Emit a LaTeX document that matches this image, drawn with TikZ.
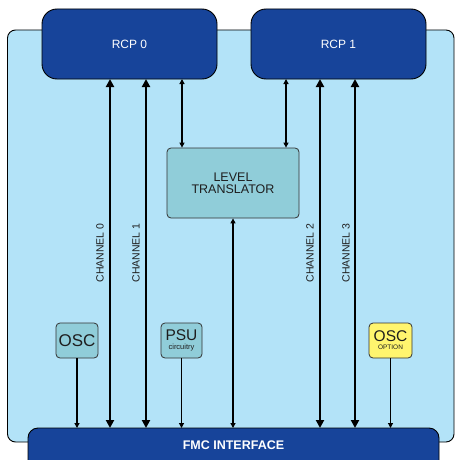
\documentclass[tikz,border=0pt]{standalone}
\usepackage{fontspec}
\setmainfont{Liberation Sans}
\usetikzlibrary{arrows.meta}
\definecolor{bgblue}{HTML}{B3E3F8}
\definecolor{darkblue}{HTML}{17449A}
\definecolor{teal}{HTML}{90CDD9}
\definecolor{yel}{HTML}{FFF56E}
\definecolor{txt}{HTML}{1E1E1E}
\tikzset{
  rcp/.style={draw=black, line width=0.9pt, fill=darkblue, rounded corners=15pt, text=white, font=\fontsize{12}{14}\selectfont},
  lbox/.style={draw=black!80, line width=0.8pt, fill=teal, rounded corners=4pt, text=txt},
  thick arr/.style={line width=2.6pt, {Triangle[length=8pt,width=8pt]}-{Triangle[length=8pt,width=8pt]}},
  thin arr/.style={line width=1.2pt, {Triangle[length=5pt,width=5pt]}-{Triangle[length=5pt,width=5pt]}},
  down arr/.style={line width=1.2pt, -{Triangle[length=5pt,width=5pt]}},
  chlab/.style={rotate=90, text=txt, font=\fontsize{10.5}{12}\selectfont},
}
\begin{document}
\begin{tikzpicture}[x=1pt,y=-1pt]
\useasboundingbox (0,0) rectangle (455,460);
\clip (0,0) rectangle (455,460);
\fill[white] (0,0) rectangle (455,460);
% background board
\draw[fill=bgblue, line width=0.9pt, rounded corners=8pt] (7.5,30) rectangle (454,442);
% RCPs
\draw[rcp] (42,9) rectangle (217,79);
\node[text=white, font=\fontsize{12}{14}\selectfont] (rcp0) at (129.5,44) {RCP 0};
\coordinate (rcp0b) at (129.5,79);
\draw[rcp] (251,9) rectangle (426,79);
\node[text=white, font=\fontsize{12}{14}\selectfont] (rcp1) at (338.5,44) {RCP 1};
% FMC
\draw[rcp, rounded corners=10pt] (28,428) rectangle (439,480);
\node[text=white, font=\bfseries\fontsize{12.5}{14}\selectfont] (fmc) at (233.5,445) {FMC INTERFACE};
% Level translator
\node[lbox, minimum width=132pt, minimum height=70pt, align=center, font=\fontsize{12.5}{14}\selectfont, inner sep=0pt] (lt) at (233,183) {LEVEL\\[-2pt]TRANSLATOR};
% small boxes
\node[lbox, minimum width=42pt, minimum height=35pt, inner sep=0pt, font=\fontsize{17}{18}\selectfont] (osc) at (77,340.5) {OSC};
\node[lbox, minimum width=41pt, minimum height=35pt, inner sep=0pt, align=center] (psu) at (181.5,340.5) {{\fontsize{15.5}{15}\selectfont PSU}\\[-3pt]{\fontsize{7.5}{8}\selectfont circuitry}};
\node[lbox, fill=yel, minimum width=43pt, minimum height=35pt, inner sep=0pt, align=center] (osco) at (390.5,340.5) {{\fontsize{15.5}{15}\selectfont OSC}\\[-4pt]{\fontsize{6.5}{7}\selectfont OPTION}};
% channel arrows
\coordinate (c0t) at (110,79); \coordinate (c0b) at (110,428);
\coordinate (c1t) at (146,79); \coordinate (c1b) at (146,428);
\coordinate (c2t) at (320,79); \coordinate (c2b) at (320,428);
\coordinate (c3t) at (355,79); \coordinate (c3b) at (355,428);
\draw[thick arr] (c0t) -- (c0b);
\draw[thick arr] (c1t) -- (c1b);
\draw[thick arr] (c2t) -- (c2b);
\draw[thick arr] (c3t) -- (c3b);
\node[chlab] (ch0) at (100,253) {CHANNEL 0};
\node[chlab] (ch1) at (136,253) {CHANNEL 1};
\node[chlab] (ch2) at (310,253) {CHANNEL 2};
\node[chlab] (ch3) at (346,253) {CHANNEL 3};
% thin arrows
\coordinate (r0a) at (182,79); \coordinate (r1a) at (286,79);
\draw[thin arr] (r0a) -- (r0a |- lt.north);
\draw[thin arr] (r1a) -- (r1a |- lt.north);
\coordinate (ltf) at (233,428);
\draw[thin arr] (lt.south) -- (ltf);
\draw[down arr] (osc.south) -- (osc.south |- ltf);
\draw[down arr] (psu.south) -- (psu.south |- ltf);
\draw[down arr] (osco.south) -- (osco.south |- ltf);
\end{tikzpicture}
\end{document}
